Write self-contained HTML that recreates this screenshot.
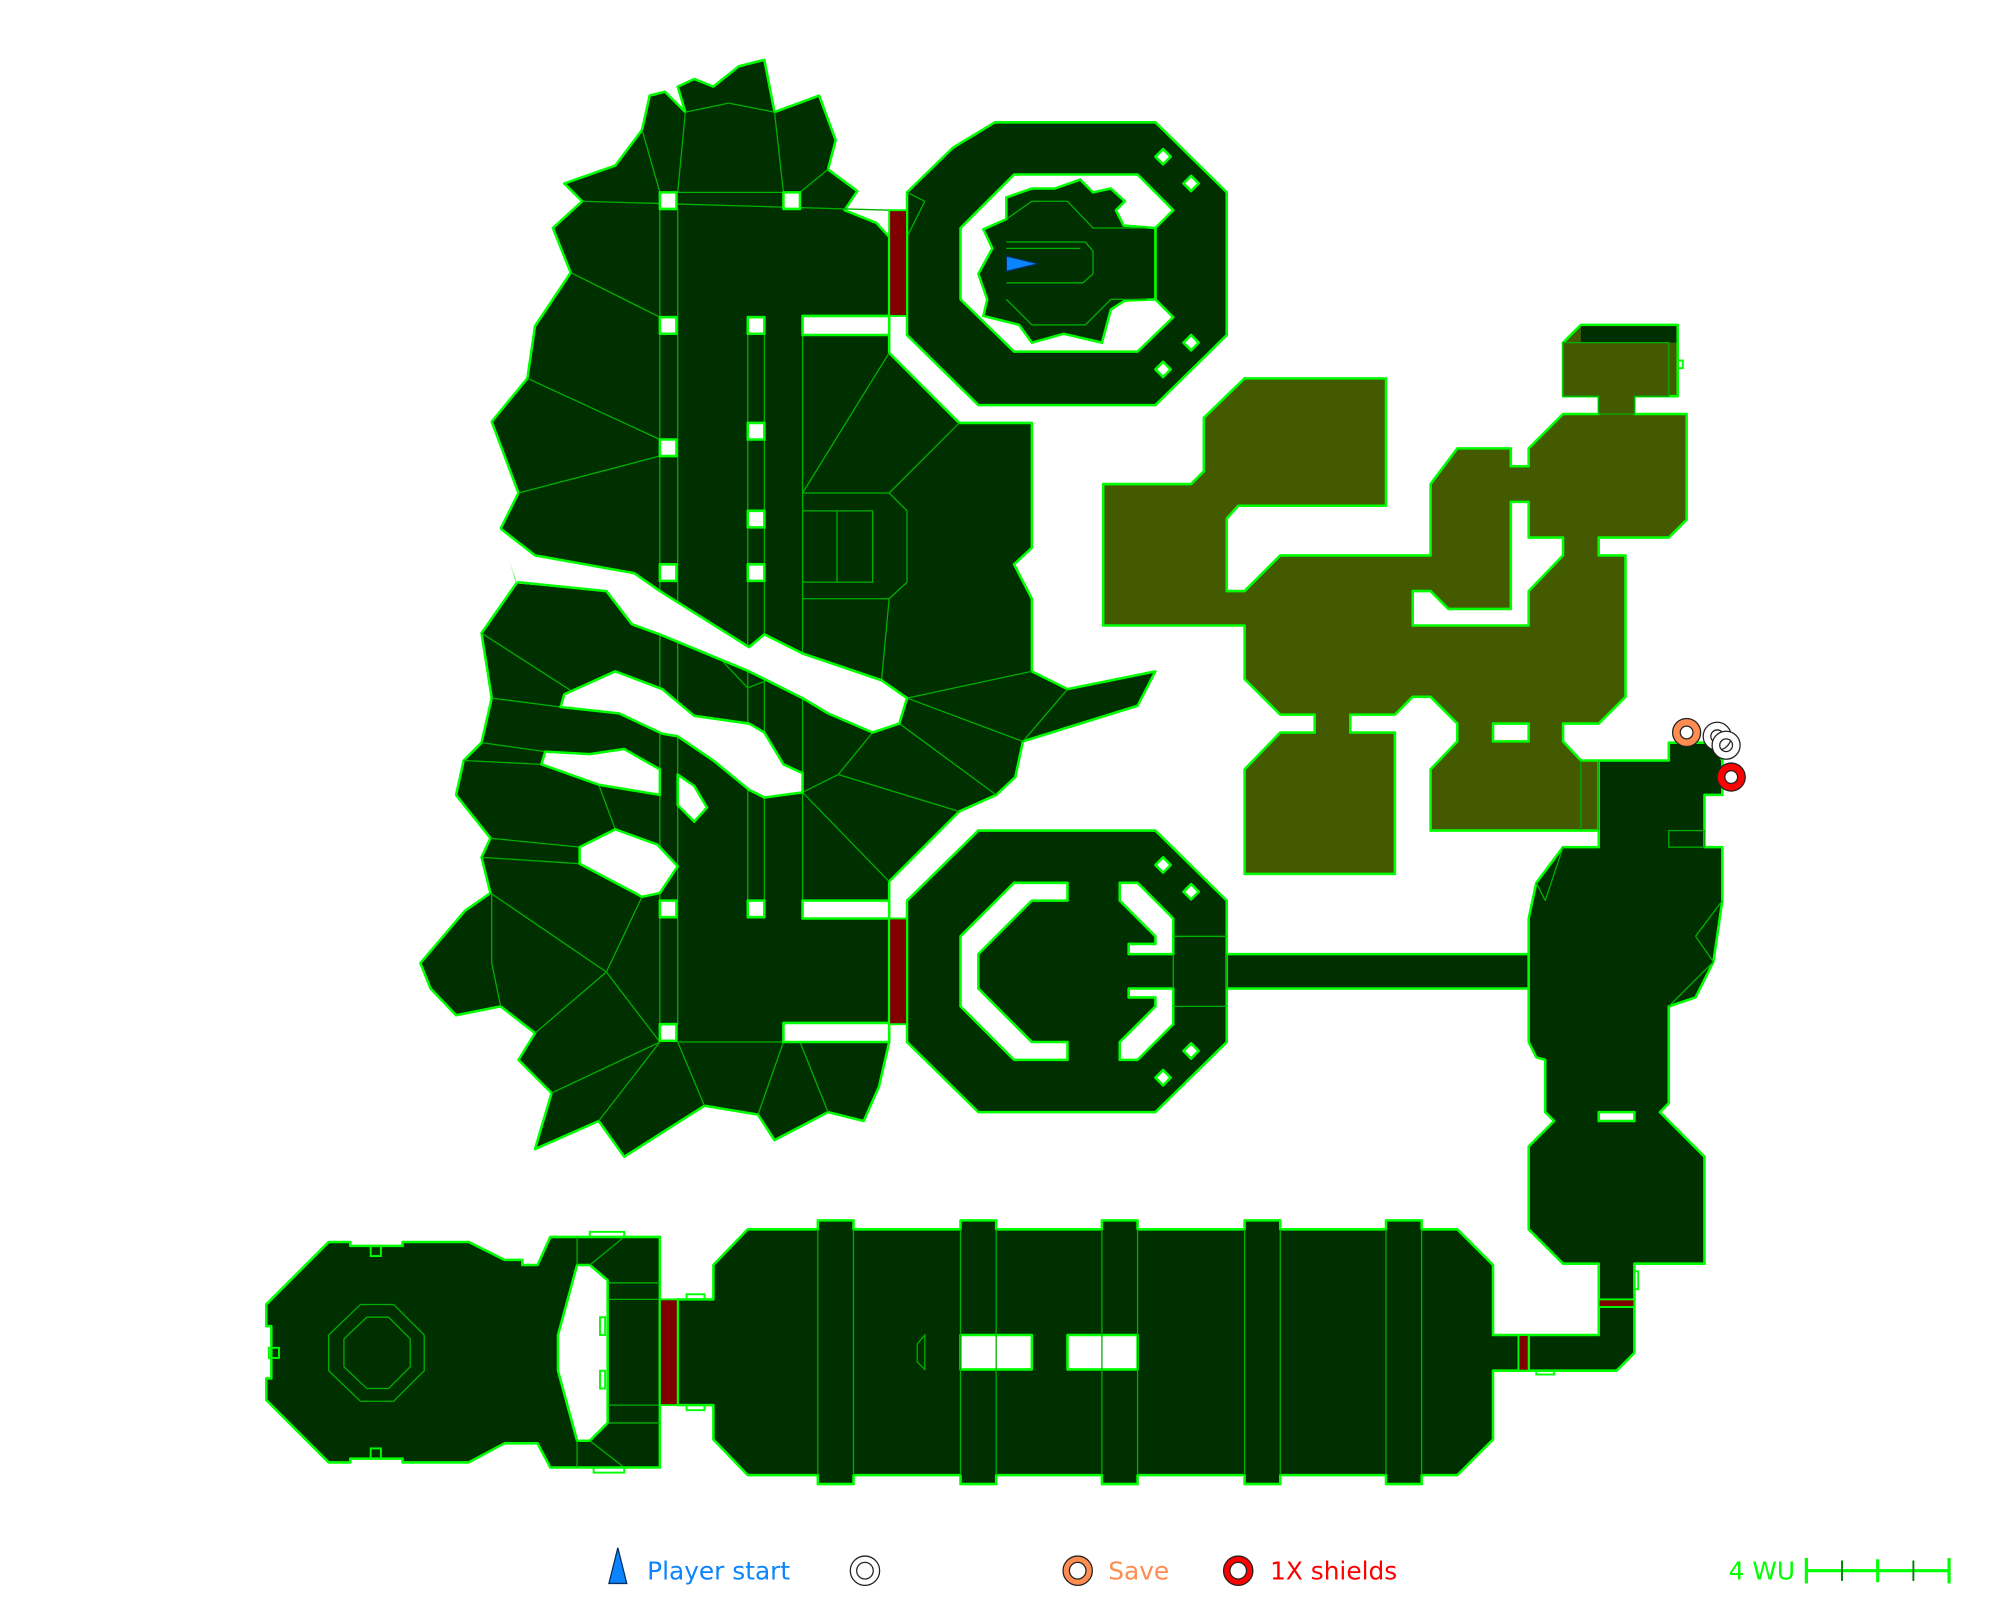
<!DOCTYPE html>
<html><head><meta charset="utf-8"><style>
html,body{margin:0;padding:0;background:#fff;width:2000px;height:1600px;overflow:hidden}
svg{display:block}
text{font-family:"DejaVu Sans","Liberation Sans",sans-serif}
</style></head><body>
<svg width="2000" height="1600" viewBox="0 0 1570 1256" preserveAspectRatio="none" xmlns="http://www.w3.org/2000/svg">
<g fill="#003000" stroke="#00ff00" stroke-width="2" stroke-linejoin="round">
<polygon points="510,75 522,72 538,88 532,68 545,62 560,68 580,52 600,47 608,88 643,75 656,110 650,133 673,150 663,165 688,175 698,186 698,277 753,332 810,332 810,430 796,443 810,470 810,527 838,541 907,527 893,554 803,582 797,610 782,624 753,637 698,692 698,818 690,853 678,880 650,873 608,895 595,875 553,868 490,908 470,880 420,902 433,858 407,832 420,811 393,790 358,797 338,776 330,756 365,715 385,701 378,673 385,658 358,624 364,597 378,583 386,548 378,497 406,457 393,415 407,387 386,331 414,297 420,256 448,214 434,179 457,158 443,144 483,130 504,102"/>
<polygon fill="#445a00" points="866,380 935,380 945,370 945,328 977,297 1088,297 1088,397 972,397 963,407 963,464 977,464 1005,436 1123,436 1123,380 1144,352 1186,352 1186,366 1200,366 1200,352 1227,325 1255,325 1255,311 1227,311 1227,269 1241,255 1317,255 1317,311 1283,311 1283,325 1324,325 1324,408 1310,422 1255,422 1255,436 1276,436 1276,547 1255,568 1227,568 1227,582 1241,597 1255,597 1255,652 1123,652 1123,604 1144,582 1144,568 1123,547 1109,547 1095,561 1060,561 1060,575 1095,575 1095,686 977,686 977,604 1005,575 1032,575 1032,561 1005,561 977,533 977,491 866,491"/>
<polygon points="781,96 907,96 963,151 963,263 907,318 768,318 712,263 712,151 748,116"/>
<polygon points="768,652 907,652 963,707 963,818 907,873 768,873 712,818 712,707"/>
<rect x="963" y="749" width="240" height="27"/>
<polygon points="1227,665 1255,665 1255,597 1310,597 1310,583 1345,583 1352,597 1352,624 1338,624 1338,665 1352,665 1352,707 1345,755 1331,783 1310,790 1310,866 1303,873 1310,880 1338,908 1338,992 1283,992 1283,1062 1269,1076 1200,1076 1200,1048 1255,1048 1255,992 1227,992 1200,965 1200,900 1220,880 1213,873 1213,832 1206,830 1200,818 1200,721 1206,693"/>
<polygon points="587,965 642,965 642,958 670,958 670,965 754,965 754,958 782,958 782,965 865,965 865,958 893,958 893,965 977,965 977,958 1005,958 1005,965 1088,965 1088,958 1116,958 1116,965 1144,965 1172,993 1172,1048 1200,1048 1200,1076 1172,1076 1172,1130 1144,1158 1116,1158 1116,1165 1088,1165 1088,1158 1005,1158 1005,1165 977,1165 977,1158 893,1158 893,1165 865,1165 865,1158 782,1158 782,1165 754,1165 754,1158 670,1158 670,1165 642,1165 642,1158 587,1158 560,1130 560,1103 532,1103 532,1020 560,1020 560,993"/>
<polygon points="258,975 275,975 275,978 316,978 316,975 368,975 396,989 410,989 410,993 422,993 432,971 518,971 518,1152 432,1152 422,1133 396,1133 368,1148 316,1148 316,1145 275,1145 275,1148 258,1148 209,1099 209,1082 213,1082 213,1041 209,1041 209,1024"/>
</g>
<g fill="none" stroke="#00b000" stroke-width="1">
<line x1="518" y1="164" x2="518" y2="804"/><line x1="532" y1="164" x2="532" y2="804"/>
<line x1="587" y1="262" x2="587" y2="707"/><line x1="600" y1="262" x2="600" y2="707"/>
<line x1="630" y1="263" x2="630" y2="707"/>
<line x1="457" y1="158" x2="698" y2="165"/><line x1="504" y1="102" x2="518" y2="151"/>
<line x1="538" y1="88" x2="532" y2="151"/><line x1="538" y1="88" x2="572" y2="81"/><line x1="572" y1="81" x2="608" y2="88"/>
<line x1="608" y1="88" x2="615" y2="151"/><line x1="650" y1="133" x2="628" y2="151"/>
<line x1="448" y1="214" x2="518" y2="249"/><line x1="414" y1="297" x2="518" y2="345"/><line x1="407" y1="387" x2="518" y2="358"/>
<line x1="630" y1="387" x2="698" y2="277"/><line x1="630" y1="387" x2="698" y2="387"/><line x1="698" y1="387" x2="753" y2="332"/>
<polyline points="630,401 685,401 685,457 630,457"/><line x1="657" y1="401" x2="657" y2="457"/>
<polyline points="698,387 712,401 712,457 698,470 630,470"/><line x1="698" y1="470" x2="692" y2="534"/>
<line x1="712" y1="548" x2="810" y2="527"/><line x1="712" y1="548" x2="803" y2="582"/><line x1="838" y1="541" x2="803" y2="582"/>
<line x1="706" y1="568" x2="782" y2="624"/><line x1="658" y1="608" x2="753" y2="637"/><line x1="685" y1="575" x2="658" y2="608"/>
<line x1="630" y1="622" x2="698" y2="692"/><line x1="630" y1="622" x2="658" y2="608"/>
<line x1="568" y1="520" x2="587" y2="540"/><line x1="587" y1="540" x2="600" y2="535"/>
<line x1="378" y1="497" x2="448" y2="542"/><line x1="386" y1="548" x2="440" y2="555"/><line x1="378" y1="583" x2="428" y2="590"/>
<line x1="364" y1="597" x2="425" y2="600"/><line x1="470" y1="616" x2="483" y2="651"/><line x1="385" y1="658" x2="455" y2="665"/>
<line x1="378" y1="673" x2="455" y2="678"/><line x1="385" y1="701" x2="476" y2="763"/><line x1="504" y1="704" x2="476" y2="763"/>
<line x1="386" y1="701" x2="386" y2="756"/><line x1="386" y1="756" x2="393" y2="790"/><line x1="420" y1="811" x2="476" y2="763"/>
<line x1="476" y1="763" x2="518" y2="818"/><line x1="433" y1="858" x2="518" y2="818"/><line x1="470" y1="880" x2="518" y2="818"/>
<line x1="532" y1="818" x2="553" y2="868"/><line x1="615" y1="818" x2="595" y2="875"/><line x1="628" y1="818" x2="650" y2="873"/>
<line x1="532" y1="818" x2="615" y2="818"/>
<line x1="532" y1="151" x2="615" y2="151"/>
<line x1="712" y1="186" x2="726" y2="158"/><line x1="712" y1="151" x2="726" y2="158"/>
</g>
<g fill="#fff" stroke="#00ff00" stroke-width="2" stroke-linejoin="round">
<polygon points="630,248 698,248 698,263 630,263"/>
<polygon points="630,707 698,707 698,721 630,721"/>
<polygon points="615,803 698,803 698,818 615,818"/>
<polygon stroke="none" points="390,413 420,436 498,450 518,464 588,508 600,498 630,513 692,534 712,548 706,568 685,575 650,560 630,548 588,527 518,498 496,490 476,464 406,458"/>
<polyline fill="none" points="393,415 420,436 498,450 518,464 588,508 600,498 630,513 692,534 712,548 706,568 685,575 650,560 630,548 588,527 518,498 496,490 476,464 406,457"/>
<polygon points="443,545 483,527 520,541 545,562 588,568 600,575 615,600 630,607 630,622 600,626 588,620 560,597 532,578 520,576 486,560 440,555"/>
<polygon points="428,590 463,592 490,588 518,604 518,624 470,616 425,600"/>
<polygon points="532,608 545,617 555,634 545,645 532,632"/>
<polygon points="455,665 483,651 516,663 532,680 518,701 504,704 455,678"/>
<polygon points="796,137 893,137 921,165 907,179 907,235 921,249 893,276 796,276 754,235 754,179"/>
<polygon points="754,735 796,693 838,693 838,707 810,707 768,749 768,776 810,818 838,818 838,832 796,832 754,790"/>
<polygon points="879,693 893,693 921,721 921,749 886,749 886,741 907,741 907,735 879,707"/>
<polygon points="879,832 893,832 921,804 921,776 886,776 886,783 907,783 907,790 879,818"/>
<polygon points="1109,464 1123,464 1137,478 1186,478 1186,394 1200,394 1200,422 1227,422 1227,436 1200,464 1200,491 1109,491"/>
<rect x="1172" y="568" width="28" height="14"/>
<rect x="1255" y="873" width="28" height="7"/>
<rect x="754" y="1048" width="56" height="27"/>
<rect x="838" y="1048" width="55" height="27"/>
<polygon points="453,993 463,993 477,1005 477,1117 463,1131 453,1131 438,1076 438,1048"/>
<g>
<rect x="518" y="151" width="13" height="13"/><rect x="615" y="151" width="13" height="13"/>
<rect x="518" y="249" width="13" height="13"/><rect x="587" y="249" width="13" height="13"/>
<rect x="587" y="332" width="13" height="13"/><rect x="518" y="345" width="13" height="13"/>
<rect x="587" y="401" width="13" height="13"/><rect x="518" y="443" width="13" height="13"/>
<rect x="587" y="443" width="13" height="13"/><rect x="518" y="707" width="13" height="13"/>
<rect x="587" y="707" width="13" height="13"/><rect x="518" y="804" width="13" height="13"/>
</g>
<g>
<polygon points="913,117 919,123 913,129 907,123"/><polygon points="935,138 941,144 935,150 929,144"/>
<polygon points="935,263 941,269 935,275 929,269"/><polygon points="913,284 919,290 913,296 907,290"/>
<polygon points="913,673 919,679 913,685 907,679"/><polygon points="935,694 941,700 935,706 929,700"/>
<polygon points="935,819 941,825 935,831 929,825"/><polygon points="913,840 919,846 913,852 907,846"/>
</g>
</g>
<polygon fill="#003000" stroke="#00ff00" stroke-width="2" points="790,155 810,148 828,148 848,141 858,151 872,148 883,158 876,165 882,177 907,179 907,235 883,236 872,243 865,269 835,262 810,269 800,255 772,248 775,235 768,215 779,195 772,180 790,172"/>
<g fill="none" stroke="#00b000" stroke-width="1">
<polyline points="790,172 810,158 838,158 858,179 900,179"/><polyline points="790,235 810,255 852,255 872,235 900,235"/>
<polyline points="790,190 852,190 858,197 858,215 850,222 790,222"/><line x1="790" y1="195" x2="848" y2="195"/>
<line x1="921" y1="735" x2="963" y2="735"/><line x1="921" y1="790" x2="963" y2="790"/>
<line x1="921" y1="749" x2="921" y2="776"/><line x1="963" y1="749" x2="963" y2="776"/>
<line x1="642" y1="965" x2="642" y2="1158"/><line x1="670" y1="965" x2="670" y2="1158"/>
<line x1="754" y1="965" x2="754" y2="1158"/><line x1="782" y1="965" x2="782" y2="1158"/>
<line x1="865" y1="965" x2="865" y2="1158"/><line x1="893" y1="965" x2="893" y2="1158"/>
<line x1="977" y1="965" x2="977" y2="1158"/><line x1="1005" y1="965" x2="1005" y2="1158"/>
<line x1="1088" y1="965" x2="1088" y2="1158"/><line x1="1116" y1="965" x2="1116" y2="1158"/>
<polygon points="720,1055 726,1048 726,1075 720,1069"/>
<polygon points="283,1024 309,1024 333,1048 333,1076 309,1100 283,1100 258,1076 258,1048"/>
<polygon points="288,1034 305,1034 322,1051 322,1073 305,1090 288,1090 270,1073 270,1051"/>
<line x1="477" y1="1007" x2="518" y2="1007"/><line x1="477" y1="1020" x2="518" y2="1020"/>
<line x1="477" y1="1103" x2="518" y2="1103"/><line x1="477" y1="1117" x2="518" y2="1117"/>
<line x1="453" y1="971" x2="453" y2="993"/><line x1="453" y1="1131" x2="453" y2="1152"/>
<line x1="463" y1="993" x2="490" y2="971"/><line x1="463" y1="1131" x2="490" y2="1152"/>
<line x1="1241" y1="597" x2="1241" y2="652"/><line x1="1255" y1="597" x2="1255" y2="652"/>
<rect x="1310" y="652" width="28" height="13"/>
<line x1="1227" y1="665" x2="1213" y2="707"/><line x1="1206" y1="693" x2="1213" y2="707"/>
<line x1="1352" y1="707" x2="1331" y2="735"/><line x1="1331" y1="735" x2="1345" y2="755"/><line x1="1310" y1="790" x2="1345" y2="755"/>
</g>
<rect x="1241" y="256" width="75" height="13" fill="#003000"/>
<polygon fill="#445a00" stroke="#00b000" stroke-width="1" points="1241,269 1310,269 1310,311 1283,311 1283,325 1255,325 1255,311 1227,311 1227,269"/>
<g fill="#800000" stroke="#00ff00" stroke-width="1.5">
<rect x="698" y="165" width="14" height="83"/>
<rect x="698" y="721" width="14" height="83"/>
<rect x="518" y="1020" width="14" height="83"/>
<rect x="1192" y="1048" width="8" height="28"/>
<rect x="1255" y="1020" width="28" height="6"/>
</g>
<g fill="none" stroke="#00ff00" stroke-width="1.5">
<rect x="291" y="978" width="8" height="8"/><rect x="291" y="1137" width="8" height="8"/>
<rect x="211" y="1058" width="8" height="8"/>
<rect x="463" y="967" width="27" height="4"/><rect x="466" y="1152" width="24" height="4"/>
<rect x="539" y="1016" width="14" height="4"/><rect x="539" y="1103" width="14" height="4"/>
<rect x="1206" y="1076" width="14" height="3"/><rect x="1283" y="998" width="3" height="14"/>
<rect x="1317" y="283" width="4" height="6"/>
<rect x="471" y="1034" width="4" height="14"/><rect x="471" y="1076" width="4" height="14"/>
</g>
<polygon points="790,201 815,207 790,213" fill="#0a84ff" stroke="#003060" stroke-width="1"/>
<circle cx="1324" cy="575" r="8" fill="none" stroke="#222" stroke-width="7"/>
<circle cx="1324" cy="575" r="8" fill="none" stroke="#ff8c50" stroke-width="5"/>
<circle cx="1348" cy="578" r="8" fill="none" stroke="#222" stroke-width="7"/>
<circle cx="1348" cy="578" r="8" fill="none" stroke="#fff" stroke-width="5"/>
<circle cx="1355" cy="585" r="8" fill="none" stroke="#222" stroke-width="7"/>
<circle cx="1355" cy="585" r="8" fill="none" stroke="#fff" stroke-width="5"/>
<circle cx="1359" cy="610" r="8" fill="none" stroke="#222" stroke-width="7"/>
<circle cx="1359" cy="610" r="8" fill="none" stroke="#ff0000" stroke-width="5"/>
<polygon points="485,1215 492,1243 478,1243" fill="#0a84ff" stroke="#003060" stroke-width="1"/>
<text x="508" y="1240" font-size="19.5" fill="#0a84ff">Player start</text>
<circle cx="679" cy="1233" r="9" fill="none" stroke="#222" stroke-width="6"/>
<circle cx="679" cy="1233" r="9" fill="none" stroke="#fff" stroke-width="4"/>
<circle cx="846" cy="1233" r="9" fill="none" stroke="#222" stroke-width="6"/>
<circle cx="846" cy="1233" r="9" fill="none" stroke="#ff8c50" stroke-width="4"/>
<text x="870" y="1240" font-size="19.5" fill="#ff8c50">Save</text>
<circle cx="972" cy="1233" r="9" fill="none" stroke="#222" stroke-width="6"/>
<circle cx="972" cy="1233" r="9" fill="none" stroke="#ff0000" stroke-width="4"/>
<text x="997" y="1240" font-size="19.5" fill="#ff0000">1X shields</text>
<text x="1357" y="1240" font-size="19.5" fill="#00ff00">4 WU</text>
<g stroke="#00ff00" stroke-width="2.5">
<line x1="1418" y1="1233" x2="1530" y2="1233"/>
<line x1="1418" y1="1223" x2="1418" y2="1243"/><line x1="1530" y1="1223" x2="1530" y2="1243"/>
<line x1="1474" y1="1224" x2="1474" y2="1242"/>
</g>
<g stroke="#008000" stroke-width="1.5">
<line x1="1446" y1="1225" x2="1446" y2="1241"/><line x1="1502" y1="1225" x2="1502" y2="1241"/>
</g>
</svg>
</body></html>
